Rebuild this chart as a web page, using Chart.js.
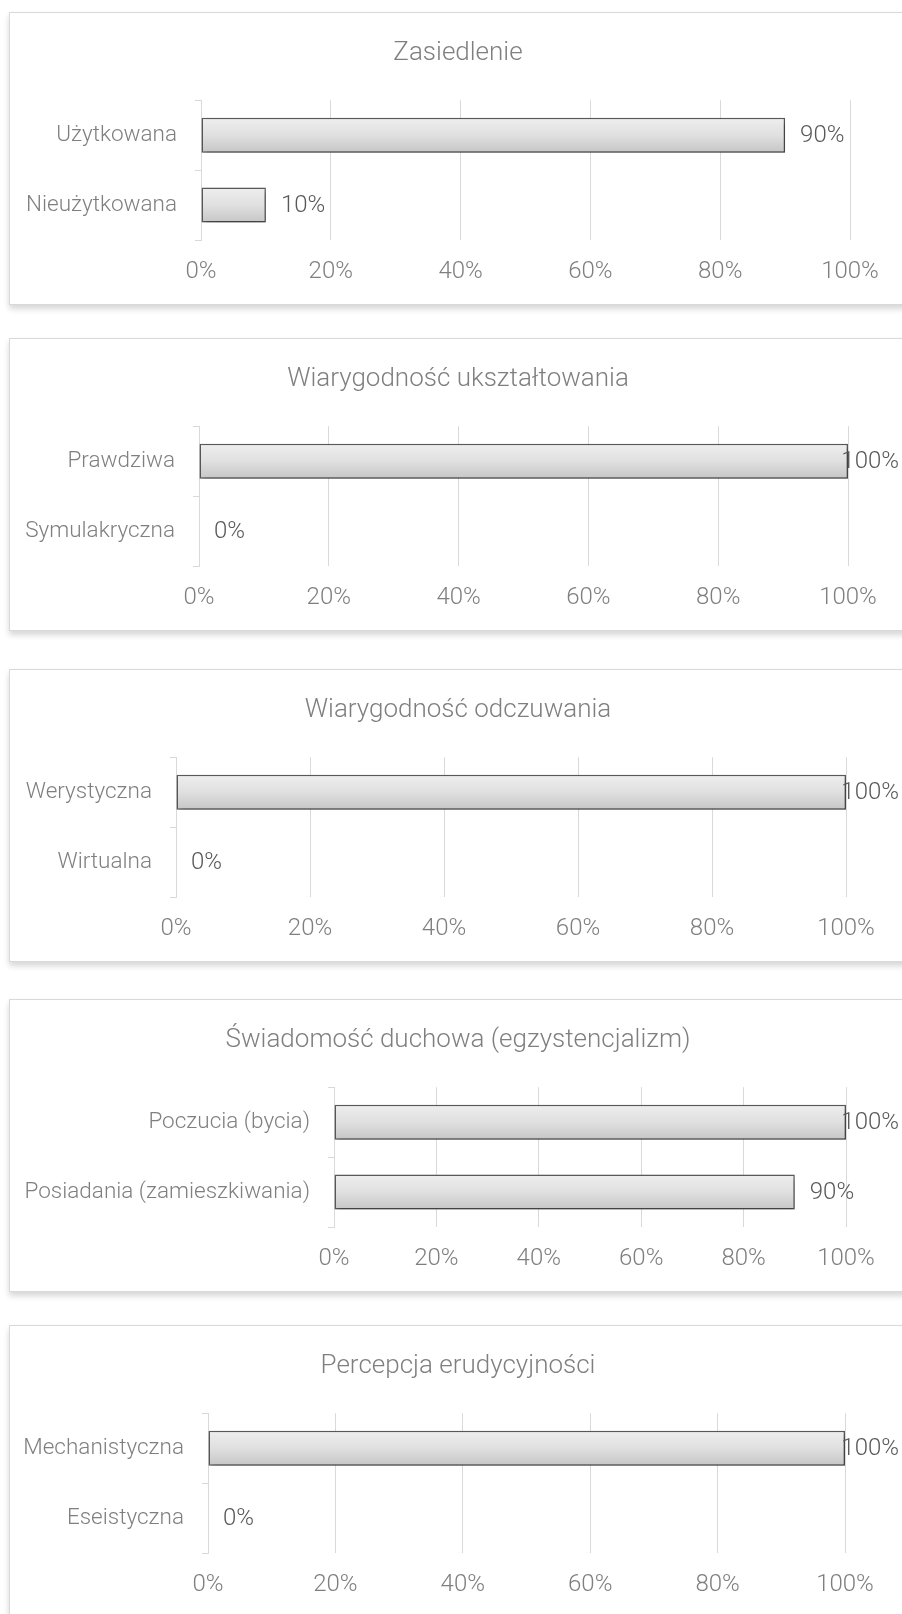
<!DOCTYPE html>
<html>
<head>
    <meta charset="UTF-8">
    <title>Wyniki ankiety</title>
    <script src="https://cdn.jsdelivr.net/npm/chart.js"></script>
    <style>
        html, body { margin: 0; padding: 0; background: #fff; overflow: hidden; }
        body { width: 902px; height: 1614px; position: relative; }
        .card {
            position: absolute;
            left: 9px;
            width: 910px;
            height: 291px;
            border: 1px solid #d9d9d9;
            background: #fff;
            box-shadow: 0 4px 6px rgba(0, 0, 0, 0.16);
        }
        .card canvas { position: absolute; left: 0; top: 0; }
    </style>
</head>
<body>
    <div class="card" style="top:12px"><canvas id="c1" width="896" height="291"></canvas></div>
    <div class="card" style="top:338px"><canvas id="c2" width="896" height="291"></canvas></div>
    <div class="card" style="top:669px"><canvas id="c3" width="896" height="291"></canvas></div>
    <div class="card" style="top:999px"><canvas id="c4" width="896" height="291"></canvas></div>
    <div class="card" style="top:1325px"><canvas id="c5" width="896" height="291"></canvas></div>

    <script type="text/javascript">
        const titles = [
            'Zasiedlenie',
            'Wiarygodność ukształtowania',
            'Wiarygodność odczuwania',
            'Świadomość duchowa (egzystencjalizm)',
            'Percepcja erudycyjności'
        ];

        const categories = [
            ['Użytkowana', 'Nieużytkowana'],
            ['Prawdziwa', 'Symulakryczna'],
            ['Werystyczna', 'Wirtualna'],
            ['Poczucia (bycia)', 'Posiadania (zamieszkiwania)'],
            ['Mechanistyczna', 'Eseistyczna']
        ];

        const values = [
            [90, 10],
            [100, 0],
            [100, 0],
            [100, 90],
            [100, 0]
        ];

        const xTicks = [0, 20, 40, 60, 80, 100];

        // where the value axis starts and ends inside each canvas
        const axisLeft = [191, 189, 166, 324, 198];
        const axisRight = [840, 838, 836, 836, 835];

        const FONT = 'Roboto, "Liberation Sans", Arial, sans-serif';
        const GREY = '#7f7f7f';
        const LINE = '#d9d9d9';

        Chart.defaults.font.family = FONT;
        Chart.defaults.font.weight = 300;
        Chart.defaults.color = GREY;

        // bars get a soft drop shadow
        const barShadow = {
            id: 'barShadow',
            beforeDatasetDraw(chart) {
                const ctx = chart.ctx;
                ctx.save();
                ctx.shadowColor = 'rgba(0, 0, 0, 0.35)';
                ctx.shadowBlur = 5;
                ctx.shadowOffsetX = 2;
                ctx.shadowOffsetY = 3;
            },
            afterDatasetDraw(chart) {
                chart.ctx.restore();
            }
        };

        // percentage labels to the right of each bar, kept inside the card
        const valueLabels = {
            id: 'valueLabels',
            afterDatasetsDraw(chart) {
                const ctx = chart.ctx;
                const ds = chart.data.datasets[0];
                const meta = chart.getDatasetMeta(0);
                ctx.save();
                ctx.font = '300 24px ' + FONT;
                ctx.fillStyle = '#595959';
                ctx.textBaseline = 'middle';
                meta.data.forEach((bar, i) => {
                    const text = ds.data[i] + '%';
                    const w = ctx.measureText(text).width;
                    const x = Math.min(bar.x + 15, chart.width - 7 - w);
                    ctx.fillText(text, x, bar.y + 1);
                });
                ctx.restore();
            }
        };

        function barGradient(c) {
            const chart = c.chart;
            const y = chart.scales.y;
            if (!chart.chartArea || !y) return '#dcdcdc';
            const mid = y.getPixelForValue(c.dataIndex);
            const half = (y.bottom - y.top) / chart.data.labels.length * 0.25;
            const g = chart.ctx.createLinearGradient(0, mid - half, 0, mid + half);
            g.addColorStop(0, '#eeeeee');
            g.addColorStop(0.5, '#e0e0e0');
            g.addColorStop(1, '#c6c6c6');
            return g;
        }

        function createChart(n) {
            const ctx = document.getElementById('c' + (n + 1)).getContext('2d');
            return new Chart(ctx, {
                type: 'bar',
                data: {
                    labels: categories[n],
                    datasets: [{
                        data: values[n],
                        backgroundColor: barGradient,
                        borderColor: '#5a5a5a',
                        borderWidth: 1.5,
                        borderSkipped: false,
                        categoryPercentage: 1,
                        barPercentage: 0.5
                    }]
                },
                options: {
                    indexAxis: 'y',
                    responsive: false,
                    animation: false,
                    events: [],
                    layout: { padding: 0 },
                    plugins: {
                        legend: { display: false },
                        tooltip: { enabled: false },
                        title: {
                            display: true,
                            text: titles[n],
                            color: GREY,
                            font: { size: 26, weight: 300 },
                            padding: { top: 25, bottom: 31 }
                        }
                    },
                    scales: {
                        x: {
                            min: 0,
                            max: 100,
                            afterBuildTicks: (scale) => {
                                scale.ticks = xTicks.map(v => ({ value: v }));
                            },
                            afterFit: (scale) => { scale.height = 64; },
                            border: { display: false },
                            grid: { color: LINE, lineWidth: 1, drawTicks: false },
                            ticks: {
                                padding: 18,
                                color: GREY,
                                font: { size: 24, weight: 300 },
                                callback: (v) => v + '%'
                            }
                        },
                        y: {
                            afterFit: (scale) => { scale.width = axisLeft[n]; },
                            border: { display: true, color: LINE, width: 1 },
                            grid: {
                                display: true,
                                drawOnChartArea: false,
                                drawTicks: true,
                                tickLength: 6,
                                offset: true,
                                color: LINE
                            },
                            ticks: {
                                padding: 18,
                                color: GREY,
                                font: { size: 22.5, weight: 300 }
                            }
                        },
                        // empty strip on the right so the title stays centred on the card
                        spacer: {
                            type: 'linear',
                            axis: 'y',
                            position: 'right',
                            afterFit: (scale) => { scale.width = 896 - axisRight[n]; },
                            border: { display: false },
                            grid: { display: false },
                            ticks: { display: false }
                        }
                    }
                },
                plugins: [barShadow, valueLabels]
            });
        }

        titles.forEach((t, n) => createChart(n));
    </script>
</body>
</html>
